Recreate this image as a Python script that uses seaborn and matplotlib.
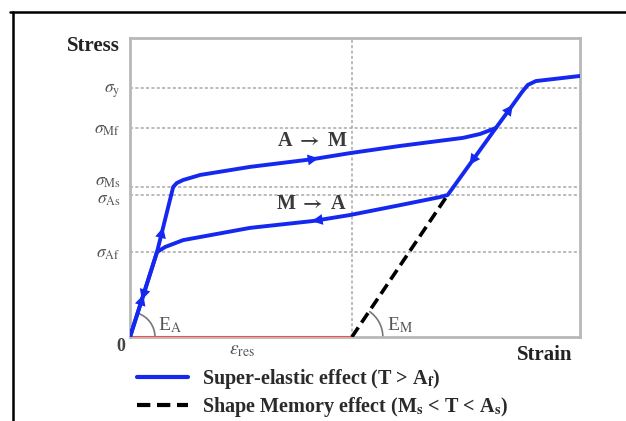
import matplotlib
matplotlib.use("Agg")
import matplotlib.pyplot as plt
import numpy as np
import seaborn as sns
from matplotlib.lines import Line2D
from matplotlib.patches import Arc
from matplotlib.transforms import ScaledTranslation

# loading path (austenite -> martensite), strain / stress in % of the frame
LOAD_X = [0, 6.0, 9.6, 10.4, 11.8, 15.6, 26.7, 40.7, 48.9, 60.0, 74.0, 77.8, 81.3, 84.9, 87.1, 88.4, 90.2, 100]
LOAD_Y = [0, 28.4, 50.2, 51.5, 52.5, 54.2, 56.9, 59.5, 61.5, 63.9, 66.6, 67.9, 69.9, 77.3, 81.9, 84.3, 85.6, 87.3]

# unloading path (martensite -> austenite)
UNLOAD_X = [81.3, 70.6, 68.9, 60.0, 48.9, 40.7, 26.7, 11.8, 7.8, 6.0, 0]
UNLOAD_Y = [69.9, 47.5, 46.8, 44.1, 40.8, 38.8, 36.5, 32.4, 30.1, 28.4, 0]

# shape memory unloading and residual strain
SM_X = [49.3, 70.6]
SM_Y = [0, 47.5]
RES_X = [0, 49.3]
RES_Y = [0, 0]

STRESS_LEVELS = [83.3, 69.9, 50.2, 47.5, 28.4]
STRESS_LABELS = [r"$\sigma_{\mathrm{y}}$", r"$\sigma_{\mathrm{Mf}}$", r"$\sigma_{\mathrm{Ms}}$",
                 r"$\sigma_{\mathrm{As}}$", r"$\sigma_{\mathrm{Af}}$"]
LABEL_SHIFT_PX = [0, 0, 7, -3, 0]
EPS_RES = 49.3

# arrowheads: x position along each path
LOAD_ARROWS = [2.9, 7.3, 41.6, 84.9]
UNLOAD_ARROWS = [75.6, 40.7, 2.7]

BLUE = "#1428f0"
GRAY = "#b8b8b8"
TXT = "#3a3a3a"


def add_arrow(ax, xs, ys, x_at, color):
    xs = np.asarray(xs, float)
    ys = np.asarray(ys, float)
    for i in range(len(xs) - 1):
        lo, hi = sorted((xs[i], xs[i + 1]))
        if lo <= x_at <= hi and xs[i] != xs[i + 1]:
            t = (x_at - xs[i]) / (xs[i + 1] - xs[i])
            head = np.array([x_at, ys[i] + t * (ys[i + 1] - ys[i])])
            p0 = ax.transData.transform((xs[i], ys[i]))
            p1 = ax.transData.transform((xs[i + 1], ys[i + 1]))
            d = (p1 - p0) / np.hypot(*(p1 - p0))
            hd = ax.transData.transform(head)
            tail = ax.transData.inverted().transform(hd - 12 * d)
            tip = ax.transData.inverted().transform(hd + 4 * d)
            ax.annotate("", xy=tip, xytext=tail,
                        arrowprops=dict(arrowstyle="-|>,head_length=0.55,head_width=0.28",
                                        color=color, lw=0, mutation_scale=14))
            return


def add_angle_arc(fig, ax, x0, y0, radius_px, angle):
    off = ScaledTranslation(x0, y0, ax.transData)
    r_in = 2 * radius_px / fig.dpi
    arc = Arc((0, 0), r_in, r_in, theta1=0, theta2=angle,
              transform=fig.dpi_scale_trans + off, color="#777777", lw=1.2)
    ax.add_patch(arc)


def main() -> None:
    sns.set_theme(style="white")
    plt.rcParams["font.family"] = ["Liberation Serif", "DejaVu Serif"]
    plt.rcParams["mathtext.fontset"] = "stix"

    fig = plt.figure(figsize=(6.26, 4.21), dpi=100)
    ax = fig.add_axes([130 / 626, 84 / 421, 450 / 626, 299 / 421])
    ax.set_xlim(0, 100)
    ax.set_ylim(0, 100)

    for lvl in STRESS_LEVELS:
        ax.axhline(lvl, color="#a8a8a8", lw=1.1, ls=(0, (2, 1.5)), zorder=1)
    ax.axvline(EPS_RES, color="#a8a8a8", lw=1.1, ls=(0, (2, 1.5)), zorder=1)

    sns.lineplot(x=RES_X, y=RES_Y, sort=False, estimator=None, color="#ff4a4a", lw=2.2, ax=ax, zorder=3)
    sns.lineplot(x=SM_X, y=SM_Y, sort=False, estimator=None, color="black", lw=2.6,
                 ax=ax, zorder=3).lines[-1].set_dashes((3.2, 1.6))
    sns.lineplot(x=LOAD_X, y=LOAD_Y, sort=False, estimator=None, color=BLUE, lw=2.8, ax=ax, zorder=4)
    sns.lineplot(x=UNLOAD_X, y=UNLOAD_Y, sort=False, estimator=None, color=BLUE, lw=2.8, ax=ax, zorder=4)

    for xa in LOAD_ARROWS:
        add_arrow(ax, LOAD_X, LOAD_Y, xa, BLUE)
    for xa in UNLOAD_ARROWS:
        add_arrow(ax, UNLOAD_X, UNLOAD_Y, xa, BLUE)

    add_angle_arc(fig, ax, 0, 0, 25, 72)
    add_angle_arc(fig, ax, SM_X[0], 0, 31, 56)

    for side in ["left", "right", "top", "bottom"]:
        ax.spines[side].set_color(GRAY)
        ax.spines[side].set_linewidth(2)
    ax.set_xticks([])
    ax.set_yticks(STRESS_LEVELS)
    ax.set_yticklabels(STRESS_LABELS)
    ax.tick_params(axis="y", length=0, pad=7, labelsize=12.5, labelcolor="#555555")
    for lab, shift in zip(ax.get_yticklabels(), LABEL_SHIFT_PX):
        lab.set_transform(lab.get_transform() + ScaledTranslation(0, shift / 100, fig.dpi_scale_trans))

    ax.text(-0.022, 0.973, "Stress", transform=ax.transAxes, ha="right", va="center",
            fontsize=15, fontweight="bold", color="#222222")
    ax.text(0.922, -0.060, "Strain", transform=ax.transAxes, ha="center", va="center",
            fontsize=15, fontweight="bold", color="#222222")
    ax.text(-0.02, -0.033, "0", transform=ax.transAxes, ha="center", va="center",
            fontsize=13, fontweight="bold", color="#444444")
    ax.text(24.9, -4.5, r"$\varepsilon_{\mathrm{res}}$", ha="center", va="center",
            fontsize=14, color="#555555", clip_on=False)
    ax.text(40.4, 65.6, r"A $\mathbf{\rightarrow}$ M", ha="center", va="center",
            fontsize=14.5, fontweight="bold", color=TXT)
    ax.text(40.4, 44.5, r"M $\mathbf{\rightarrow}$ A", ha="center", va="center",
            fontsize=14.5, fontweight="bold", color=TXT)
    ax.text(6.2, 4.0, r"E$_{\mathrm{A}}$", ha="left", va="center", fontsize=14, color="#555555")
    ax.text(57.1, 4.0, r"E$_{\mathrm{M}}$", ha="left", va="center", fontsize=14, color="#555555")

    handles = [Line2D([], [], color=BLUE, lw=3),
               Line2D([], [], color="black", lw=3, dashes=(3.2, 1.6))]
    labels = [r"Super-elastic effect (T > A$_{\mathbf{f}}$)",
              r"Shape Memory effect (M$_{\mathbf{s}}$ < T < A$_{\mathbf{s}}$)"]
    fig.legend(handles, labels, loc="upper left", bbox_to_anchor=(137 / 626, 1 - 367 / 421),
               frameon=False, handlelength=2.55, handletextpad=0.7, labelspacing=0.22,
               borderpad=0, borderaxespad=0,
               prop={"family": ["Liberation Serif", "DejaVu Serif"], "weight": "bold", "size": 14.5},
               labelcolor="#2a2a2a")

    fig.add_artist(Line2D([10 / 626, 1.0], [1 - 12 / 421, 1 - 12 / 421], color="black", lw=1.8,
                          transform=fig.transFigure))
    fig.add_artist(Line2D([13 / 626, 13 / 626], [0, 1 - 12 / 421], color="black", lw=1.8,
                          transform=fig.transFigure))

    fig.savefig("out.png", dpi=100, facecolor="white")
    plt.close(fig)


if __name__ == "__main__":
    main()
